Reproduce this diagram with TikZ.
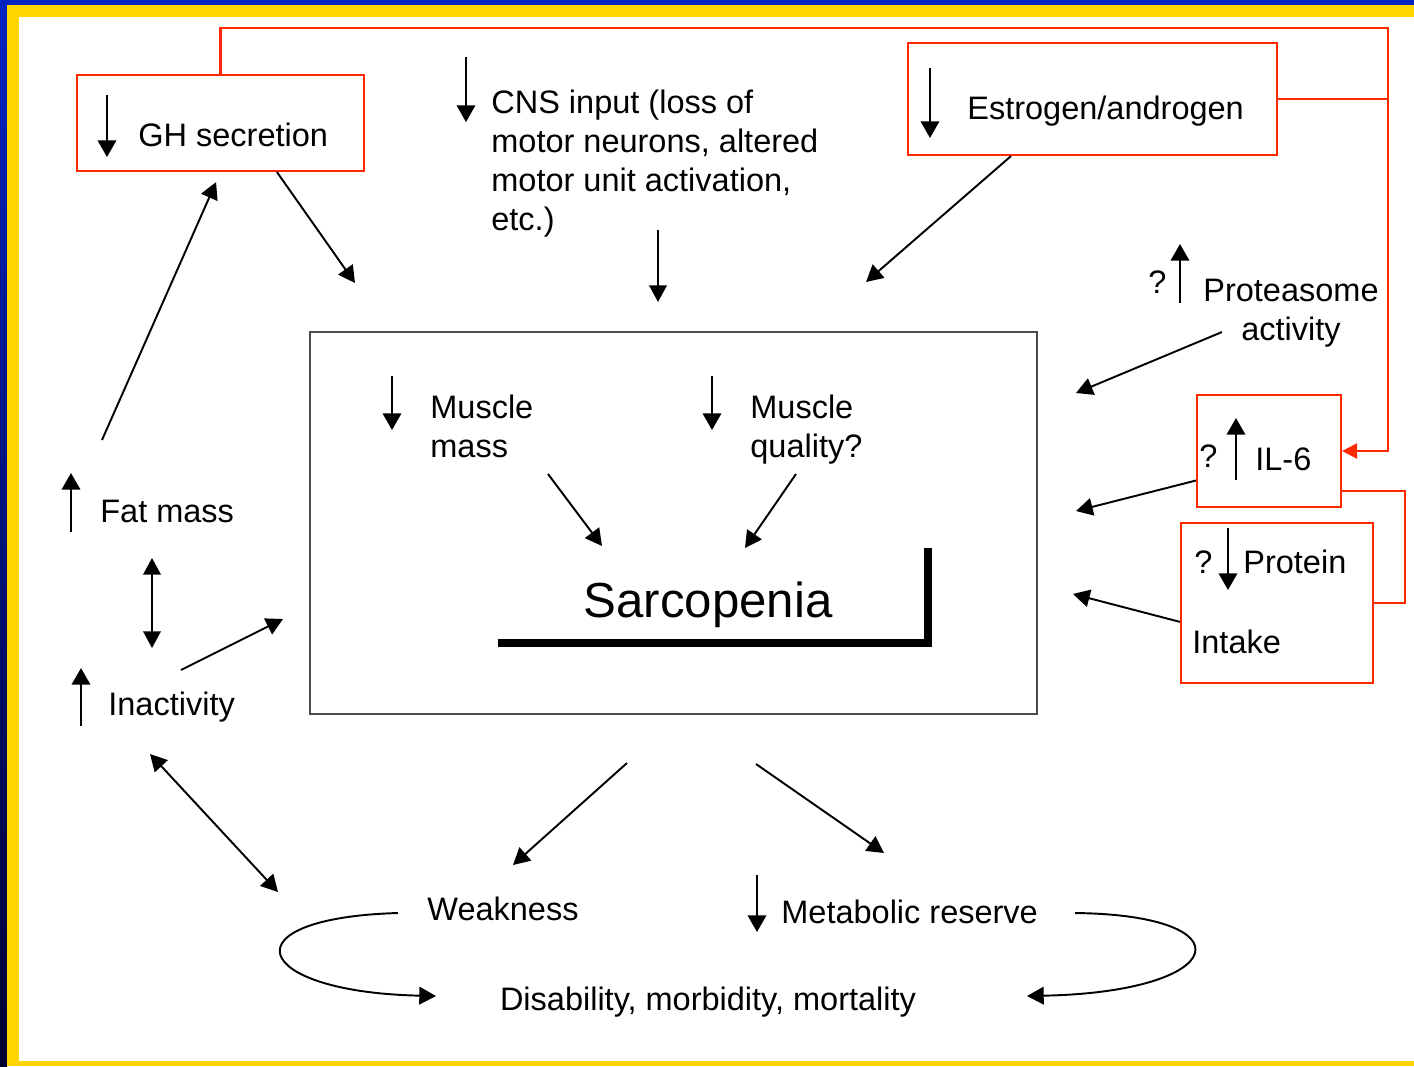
\documentclass[tikz,border=0pt]{standalone}
\usepackage{fontspec}
\setmainfont{Liberation Sans}
\usetikzlibrary{arrows.meta}
\newcommand{\px}{0.02cm}
\definecolor{frameblue}{RGB}{0,34,192}
\definecolor{framenavy}{RGB}{0,0,48}
\definecolor{frameyellow}{RGB}{255,214,0}
\definecolor{boxred}{RGB}{255,40,0}

\begin{document}
\begin{tikzpicture}[x=\px, y=-\px]
  \tikzset{txt/.style={font=\fontsize{18.5}{22.1}\selectfont, inner sep=0pt, anchor=base west}}
  \tikzset{redbox/.style={draw=boxred, line width=1.2pt, inner sep=0pt}}
  \tikzset{redline/.style={draw=boxred, line width=1.2pt}}
  \tikzset{arr/.style={-{Triangle[length=9.5pt,width=10pt]}, line width=1.1pt}}
  \tikzset{twoway/.style={{Triangle[length=9.5pt,width=10pt]}-{Triangle[length=9.5pt,width=10pt]}, line width=1.1pt}}
  \tikzset{sign/.style={-{Triangle[length=9.5pt,width=10.5pt]}, line width=1.3pt}}
  \useasboundingbox (0,0) rectangle (1414,1066);
  \fill[frameblue] (0,0) rectangle (1414,1066);
  \shade[top color=frameblue, middle color=frameblue, bottom color=framenavy] (0,0) rectangle (7,1066);
  \fill[frameyellow] (7,5) rectangle (1414,1066);
  \fill[white] (19,17) rectangle (1414,1061);

  \node[draw=black!70, line width=1pt, minimum width=727*\px, minimum height=382*\px] (box) at (673.5,523) {};
  \node[redbox, minimum width=287*\px, minimum height=96*\px] (ghbox) at (220.5,123) {};
  \node[redbox, minimum width=369*\px, minimum height=112*\px] (estrogenbox) at (1092.5,99) {};
  \node[redbox, minimum width=144*\px, minimum height=112*\px] (ilbox) at (1269,451) {};
  \node[redbox, minimum width=192*\px, minimum height=160*\px] (proteinbox) at (1277,603) {};

  \node[txt] (ghlabel) at (138,146) {GH secretion};
  \node[txt, align=left] (cnslabel) at (491,230) {CNS input (loss of\\motor neurons, altered\\motor unit activation,\\etc.)};
  \node[txt] (estrogenlabel) at (967,119) {Estrogen/androgen};
  \node[txt] (proteasomeq) at (1148,293) {?};
  \node[txt, align=center, anchor=base] (proteasomelabel) at (1291,340) {Proteasome\\activity};
  \node[txt] (ilq) at (1199,467) {?};
  \node[txt] (illabel) at (1255,470) {IL-6};
  \node[txt] (proteinq) at (1194,573) {?};
  \node[txt] (proteinlabel) at (1243,573) {Protein};
  \node[txt] (intakelabel) at (1192,653) {Intake};
  \node[txt, align=left] (musclemass) at (430,457) {Muscle\\mass};
  \node[txt, align=left] (musclequality) at (750,457) {Muscle\\quality?};
  \node[font=\fontsize{28}{33}\selectfont, inner sep=0pt, anchor=base] (sarcopenia) at (708,617) {Sarcopenia};
  \node[txt] (fatmass) at (100,522) {Fat mass};
  \node[txt] (inactivity) at (108,715) {Inactivity};
  \node[txt, anchor=base] (weakness) at (503,920) {Weakness};
  \node[txt] (metabolic) at (781,923) {Metabolic reserve};
  \node[txt, anchor=base] (disability) at (708,1010) {Disability, morbidity, mortality};

  \coordinate (gh-to) at (355,283);
  \coordinate (cns-from) at (658,230);
  \coordinate (cns-to) at (658,302);
  \coordinate (estrogen-to) at (866,282);
  \coordinate (proteasome-from) at (1222,332);
  \coordinate (proteasome-to) at (1076,393);
  \coordinate (il-to) at (1076,511);
  \coordinate (protein-to) at (1073,594);
  \coordinate (mass-from) at (548,474);
  \coordinate (mass-to) at (602,546);
  \coordinate (quality-from) at (796,474);
  \coordinate (quality-to) at (745,548);
  \coordinate (fat-from) at (102,440);
  \coordinate (fat-up) at (152,558);
  \coordinate (inact-down) at (152,648);
  \coordinate (inact-from) at (181,670);
  \coordinate (inact-to) at (283,619);
  \coordinate (inact-corner) at (150,754);
  \coordinate (weak-corner) at (278,892);
  \coordinate (box-left) at (627,763);
  \coordinate (weak-to) at (513,865);
  \coordinate (box-right) at (756,764);
  \coordinate (meta-to) at (884,853);
  \coordinate (weak-loop) at (398,913);
  \coordinate (dis-left) at (436,996);
  \coordinate (meta-loop) at (1075,913);
  \coordinate (dis-right) at (1027,996);
  \coordinate (loop-ne) at (1388,28);
  \coordinate (il-link) at (1405,491);

  \draw[line width=4.5pt] (498,643) -| (928,548);

  \draw[sign] (107,95) -- (107,157);
  \draw[sign] (466,57) -- (466,122);
  \draw[sign] (930,68) -- (930,138);
  \draw[sign] (1180,303) -- (1180,244);
  \draw[sign] (392,376) -- (392,430);
  \draw[sign] (712,376) -- (712,430);
  \draw[sign] (1236,480) -- (1236,418);
  \draw[sign] (1228,528) -- (1228,590);
  \draw[sign] (71,532) -- (71,473);
  \draw[sign] (81,726) -- (81,668);
  \draw[sign] (757,875) -- (757,932);

  \draw[redline, -{Triangle[length=8.5pt,width=8.5pt]}] (ghbox.north) |- (loop-ne) |- (ilbox.east);
  \draw[redline] (estrogenbox.east) -- (estrogenbox.east -| loop-ne);
  \draw[redline] (ilbox.east |- il-link) -- (il-link) |- (proteinbox.east);

  \draw[arr] (ghbox.-41) -- (gh-to);
  \draw[arr] (cns-from) -- (cns-to);
  \draw[arr] (estrogenbox.-145) -- (estrogen-to);
  \draw[arr] (proteasome-from) -- (proteasome-to);
  \draw[arr] (ilbox.-158) -- (il-to);
  \draw[arr] (proteinbox.-169) -- (protein-to);
  \draw[arr] (mass-from) -- (mass-to);
  \draw[arr] (quality-from) -- (quality-to);
  \draw[arr, shorten >=0.22cm] (fat-from) -- (ghbox.south);
  \draw[twoway] (fat-up) -- (inact-down);
  \draw[arr] (inact-from) -- (inact-to);
  \draw[twoway] (inact-corner) -- (weak-corner);
  \draw[arr] (box-left) -- (weak-to);
  \draw[arr] (box-right) -- (meta-to);
  \draw[arr] (weak-loop) .. controls (225,918) and (250,992) .. (dis-left);
  \draw[arr] (meta-loop) .. controls (1250,915) and (1230,992) .. (dis-right);
\end{tikzpicture}
\end{document}
